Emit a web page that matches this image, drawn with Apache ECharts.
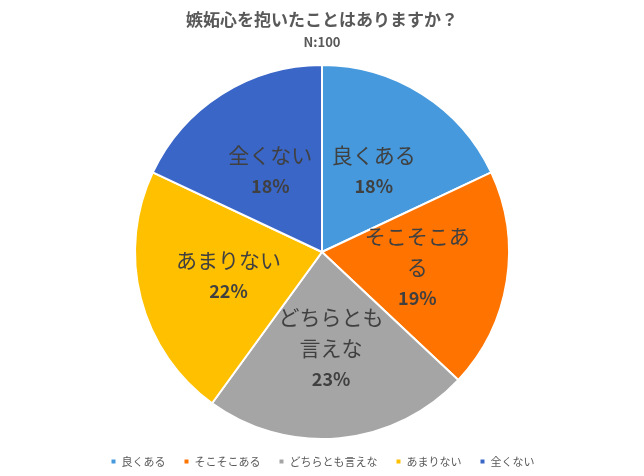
<!DOCTYPE html>
<html>
<head>
<meta charset="utf-8">
<script src="https://cdn.jsdelivr.net/npm/echarts@6/dist/echarts.min.js"></script>
<style>
html, body { margin: 0; padding: 0; background: #fff; }
#chart { width: 644px; height: 476px; }
</style>
</head>
<body>
<div id="chart"></div>
<script>
// 回答データ
var categories = ['良くある', 'そこそこある', 'どちらとも言えな', 'あまりない', '全くない'];
var values = [18, 19, 23, 22, 18];
var colors = ['#4599dc', '#ff7300', '#a5a5a5', '#ffc000', '#3a66c8'];

(function () {
    var myChart = echarts.init(document.getElementById('chart'));
    var font = '"Noto Sans CJK JP", "Noto Sans", sans-serif';

    var data = categories.map(function (name, i) {
        return { name: name, value: values[i] };
    });

    // 5文字ごとに改行
    function wrap(s) {
        var out = [];
        for (var i = 0; i < s.length; i += 5) {
            out.push('{n|' + s.slice(i, i + 5) + '}');
        }
        return out.join('\n');
    }

    var option = {
        color: colors,
        textStyle: { fontFamily: font },
        title: {
            text: '嫉妬心を抱いたことはありますか？',
            subtext: 'N:100',
            left: 'center',
            top: 6,
            itemGap: 8,
            textStyle: { fontSize: 17, fontWeight: 'bold', color: '#595959', fontFamily: font },
            subtextStyle: { fontSize: 13, fontWeight: 'bold', color: '#595959', fontFamily: font }
        },
        legend: {
            bottom: 4,
            left: 'center',
            icon: 'rect',
            itemWidth: 6,
            itemHeight: 6,
            itemGap: 17,
            textStyle: { fontSize: 11, color: '#595959', fontFamily: font },
            data: categories
        },
        series: [
            {
                type: 'pie',
                center: [322, 252],
                radius: [0, 187],
                startAngle: 90,
                clockwise: true,
                avoidLabelOverlap: false,
                data: data,
                itemStyle: { borderColor: '#fff', borderWidth: 2 },
                label: {
                    show: true,
                    position: 'inside',
                    formatter: function (p) {
                        return wrap(p.name) + '\n{p|' + Math.round(p.percent) + '%}';
                    },
                    color: '#404040',
                    fontFamily: font,
                    rich: {
                        n: { fontSize: 21, lineHeight: 31, color: '#404040', fontFamily: font },
                        p: { fontSize: 18, fontWeight: 'bold', lineHeight: 31, color: '#404040', fontFamily: font }
                    }
                },
                labelLayout: { hideOverlap: false },
                labelLine: { show: false },
                emphasis: { disabled: true }
            }
        ]
    };
    myChart.setOption(option);
})();
</script>
</body>
</html>
